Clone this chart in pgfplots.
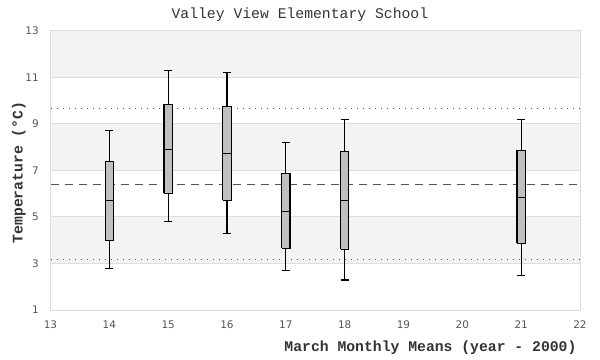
\documentclass[border=0pt]{standalone}
\usepackage{fontspec}
\setmainfont{DejaVu Sans}
\newfontfamily\monofont{Liberation Mono}
\usepackage{pgfplots}
\pgfplotsset{compat=1.18}
\definecolor{band}{HTML}{F3F3F3}
\definecolor{gridc}{HTML}{DDDDDD}
\definecolor{boxc}{HTML}{C0C0C0}
\definecolor{tickc}{HTML}{555555}
\definecolor{labc}{HTML}{333333}
\definecolor{refc}{HTML}{555555}
% #1 x, #2 left, #3 right, #4 lower whisker, #5 lower quartile, #6 median, #7 upper quartile, #8 upper whisker
\newcommand{\bx}[8]{%
\addplot[fill=boxc, draw=black, line width=1.2bp, line join=miter] coordinates {(#2,#5) (#3,#5) (#3,#7) (#2,#7) (#2,#5)};
\addplot[black, line width=1.2bp, unbounded coords=jump] coordinates {(#1,#4) (#1,#5) (#1,nan) (#1,#7) (#1,#8) (#1,nan) (#2,#4) (#3,#4) (#1,nan) (#2,#8) (#3,#8) (#1,nan) (#2,#6) (#3,#6)};
}
\begin{document}
\begin{tikzpicture}
\begin{axis}[
  at={(0,0)}, anchor=south west,
  set layers,
  scale only axis, width=529.5bp, height=279.3bp,
  xmin=13, xmax=22, ymin=1, ymax=13,
  xtick={13,...,22}, ytick={1,3,...,13},
  major tick length=0pt,
  ymajorgrids, grid style={gridc, line width=0.9bp},
  axis line style={gridc, line width=0.9bp},
  tick label style={font=\fontsize{10.5}{12}\selectfont, text=tickc, inner sep=0pt},
  /pgf/number format/assume math mode=true,
  xticklabel style={anchor=north, yshift=-11bp},
  yticklabel style={anchor=east, xshift=-11.5bp},
  title={\monofont\fontsize{14.8}{16}\selectfont Valley View Elementary School},
  title style={at={([yshift=6.4bp]axis description cs:0.471,1)}, anchor=base, text=labc, inner sep=0pt},
  xlabel={\monofont\bfseries\fontsize{14.8}{16}\selectfont March Monthly Means (year - 2000)},
  xlabel style={at={([yshift=-41.7bp]axis description cs:0.9937,0)}, anchor=base east, text=labc, inner sep=0pt},
  ylabel={\monofont\bfseries\fontsize{14.8}{16}\selectfont Temperature (°C)},
  ylabel style={at={([xshift=-28bp]axis description cs:0,0.492)}, anchor=base, text=labc, inner sep=0pt},
]
\addplot[draw=none, fill=band, on layer=axis background] coordinates {(13,11) (22,11) (22,13) (13,13) (13,11)};
\addplot[draw=none, fill=band, on layer=axis background] coordinates {(13,7) (22,7) (22,9) (13,9) (13,7)};
\addplot[draw=none, fill=band, on layer=axis background] coordinates {(13,3) (22,3) (22,5) (13,5) (13,3)};
\addplot[refc, line width=1bp, dash pattern=on 1.5bp off 4.5bp] coordinates {(13,9.64) (22,9.64)};
\addplot[refc, line width=1bp, dash pattern=on 8bp off 6bp] coordinates {(13,6.40) (22,6.40)};
\addplot[refc, line width=1bp, dash pattern=on 1.5bp off 4.5bp] coordinates {(13,3.18) (22,3.18)};
\bx{14}{13.93}{14.07}{2.79}{3.99}{5.71}{7.39}{8.70}
\bx{15}{14.93}{15.07}{4.81}{6.01}{7.90}{9.84}{11.28}
\bx{16}{15.93}{16.07}{4.29}{5.71}{7.73}{9.75}{11.21}
\bx{17}{16.93}{17.07}{2.70}{3.65}{5.24}{6.87}{8.19}
\bx{18}{17.93}{18.07}{2.29}{3.61}{5.71}{7.80}{9.19}
\bx{21}{20.93}{21.07}{2.49}{3.86}{5.85}{7.86}{9.19}
\end{axis}
\pgfresetboundingbox
\path (-50.5bp,-50bp) rectangle (549.5bp,310bp);
\end{tikzpicture}
\end{document}
